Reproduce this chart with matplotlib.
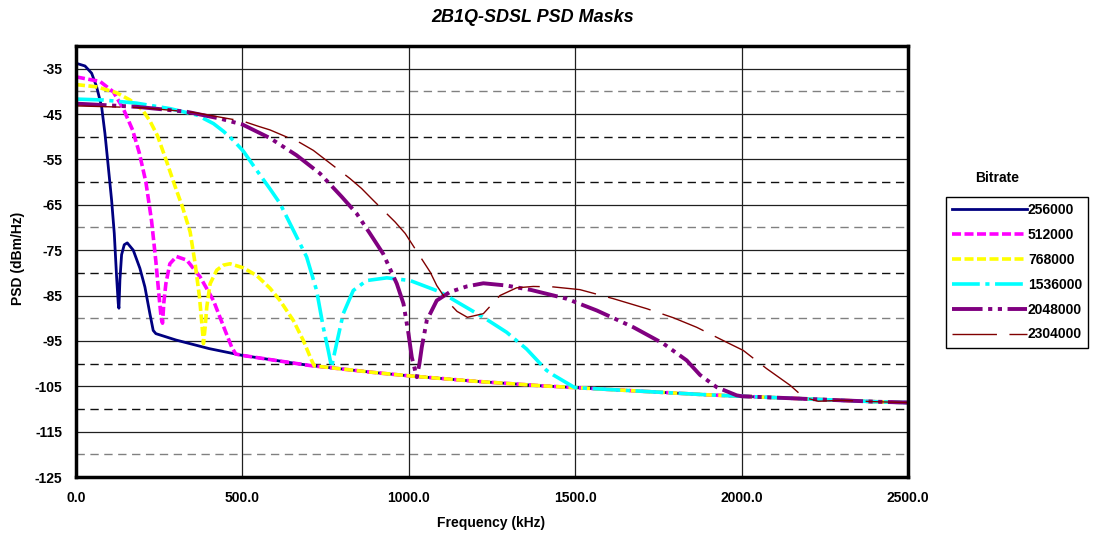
import matplotlib
matplotlib.use('Agg')
import matplotlib.pyplot as plt

plt.rcParams['font.family'] = ['Liberation Sans', 'DejaVu Sans']
plt.rcParams['font.weight'] = 'bold'
plt.rcParams['lines.scale_dashes'] = False
plt.rcParams['axes.unicode_minus'] = False

# common floor of all masks (kHz, dBm/Hz)
floor_khz = [240, 300, 400, 500, 600, 700, 800, 900, 1000, 1100, 1200, 1300,
             1400, 1500, 1600, 1700, 1800, 1900, 2000, 2100, 2200, 2300, 2400, 2500]
floor_dbm = [-93.4, -94.8, -96.7, -98.2, -99.3, -100.4, -101.2, -102.0, -102.7, -103.3,
             -103.9, -104.4, -104.9, -105.3, -105.7, -106.1, -106.5, -106.9, -107.2,
             -107.5, -107.8, -108.1, -108.4, -108.6]

# lobes of each mask, before they meet the floor
f_256 = [0, 27, 47, 62, 77, 87, 97, 107, 115, 122, 127, 129, 132, 137, 145, 154,
         172, 192, 207, 222, 232, 240]
p_256 = [-33.8, -34.4, -36.0, -39.0, -43.4, -49.3, -56.6, -64.0, -71.3, -80.9, -86.8,
         -87.8, -81.5, -76.0, -73.8, -73.4, -75.0, -79.0, -83.1, -89.0, -92.7, -93.4]

f_512 = [0, 42, 72, 112, 142, 170, 190, 210, 227, 240, 250, 256, 260, 264, 270, 282,
         302, 333, 373, 413, 448, 468, 480]
p_512 = [-36.8, -37.4, -37.8, -40.1, -43.8, -48.5, -53.5, -60.0, -68.5, -77.5, -85.5,
         -90.0, -91.1, -86.5, -82.4, -78.0, -76.4, -77.2, -80.9, -86.1, -92.7, -96.4, -97.9]

f_768 = [0, 62, 122, 162, 200, 222, 245, 272, 297, 320, 343, 358, 371, 380, 383, 388,
         393, 403, 423, 443, 463, 503, 543, 583, 613, 653, 683, 708, 716]
p_768 = [-38.5, -39.0, -40.3, -41.9, -44.1, -46.5, -49.8, -55.4, -60.8, -65.5, -71.0,
         -78.0, -85.3, -92.7, -95.6, -92.0, -87.5, -82.4, -79.4, -78.3, -78.0, -78.9,
         -80.6, -83.4, -86.1, -90.5, -94.9, -99.3, -100.5]

f_1536 = [0, 82, 182, 282, 363, 413, 443, 473, 503, 543, 583, 613, 653, 693, 723, 743,
          758, 768, 773, 783, 803, 833, 873, 934, 1004, 1094, 1154, 1224, 1294, 1354,
          1414, 1434, 1494]
p_1536 = [-41.7, -41.9, -42.6, -43.8, -45.2, -47.1, -48.8, -50.8, -53.2, -57.4, -61.5,
          -64.7, -70.6, -76.5, -83.9, -92.0, -97.1, -100.8, -99.0, -95.6, -89.0, -83.9,
          -81.7, -81.1, -81.7, -84.2, -86.8, -89.8, -93.1, -96.8, -101.5, -102.5, -105.1]

f_2048 = [0, 182, 333, 433, 500, 583, 663, 733, 798, 843, 883, 923, 964, 984, 999,
          1009, 1024, 1032, 1039, 1054, 1084, 1124, 1174, 1224, 1294, 1369, 1474, 1565,
          1675, 1765, 1835, 1875, 1925, 1985]
p_2048 = [-42.7, -43.4, -44.5, -46.0, -47.3, -50.3, -54.1, -58.1, -63.2, -66.9, -71.3,
          -75.8, -82.4, -86.8, -93.4, -98.6, -103.0, -100.0, -96.4, -90.5, -86.1, -84.2,
          -83.0, -82.3, -82.8, -83.8, -85.7, -88.3, -92.0, -95.6, -99.3, -102.5, -105.2,
          -107.0]

f_2304 = [0, 200, 350, 503, 548, 583, 673, 713, 823, 858, 893, 959, 989, 1064, 1084,
          1114, 1145, 1176, 1224, 1274, 1324, 1374, 1434, 1514, 1615, 1715, 1795, 1865,
          1955, 2005, 2075, 2146, 2186, 2230]
p_2304 = [-43.2, -43.6, -44.6, -46.6, -47.7, -48.5, -51.3, -53.0, -59.2, -61.4, -64.0,
          -68.8, -71.3, -79.8, -82.8, -86.1, -88.5, -89.8, -89.0, -85.0, -83.3, -83.0,
          -83.1, -83.7, -85.7, -87.9, -89.9, -92.0, -95.3, -97.1, -101.1, -104.8, -107.4,
          -108.3]

bitrates = ['256000', '512000', '768000', '1536000', '2048000', '2304000']
lobes = [(f_256, p_256), (f_512, p_512), (f_768, p_768),
         (f_1536, p_1536), (f_2048, p_2048), (f_2304, p_2304)]

colors = ['#000080', '#FF00FF', '#FFFF00', '#00FFFF', '#800080', '#800000']
widths = [2.0, 2.6, 2.6, 2.6, 2.8, 1.0]
dashes = [None, (6.5, 2.5), (6.5, 2.5), (20, 4, 3, 4), (22, 4, 3, 4, 3, 4), (32, 9)]

fig = plt.figure(figsize=(10.94, 5.40), dpi=100)
ax = fig.add_axes([76 / 1094, 63 / 540, 832 / 1094, 431 / 540])

# grid lines
for v in range(-115, -34, 10):
    ax.axhline(v, color='#202020', lw=0.9, zorder=1)
grey_minor = [-40, -70, -90, -120]
for v in range(-120, -39, 10):
    c = '#808080' if v in grey_minor else '#101010'
    ax.axhline(v, color=c, lw=1.0, ls=(0, (6, 4)), zorder=1)
for v in [500, 1000, 1500, 2000]:
    ax.axvline(v, color='#202020', lw=0.9, zorder=1)

handles = []
for name, (f, p), c, w, d in zip(bitrates, lobes, colors, widths, dashes):
    fx = list(f) + [x for x in floor_khz if x > f[-1]]
    py = list(p) + [y for x, y in zip(floor_khz, floor_dbm) if x > f[-1]]
    line, = ax.plot(fx, py, color=c, lw=w, label=name, zorder=3)
    if d is not None:
        line.set_dashes(d)
    handles.append(line)

ax.set_xlim(0, 2500)
ax.set_ylim(-125, -30)
xt = [0, 500, 1000, 1500, 2000, 2500]
ax.set_xticks(xt)
ax.set_xticklabels([f'{v:.1f}' for v in xt])
ax.set_yticks(list(range(-125, -34, 10)))
ax.tick_params(length=0, labelsize=10, pad=10)
for s in ax.spines.values():
    s.set_linewidth(2.5)
    s.set_color('black')
    s.set_zorder(5)

fig.text(533 / 1094, 1 - 17 / 540, '2B1Q-SDSL PSD Masks', ha='center', va='center',
         fontsize=13, style='italic', weight='bold')
fig.text(491 / 1094, 1 - 523 / 540, 'Frequency (kHz)', ha='center', va='center', fontsize=10)
fig.text(18 / 1094, 1 - 258 / 540, 'PSD (dBm/Hz)', ha='center', va='center',
         rotation=90, fontsize=10)

fig.text(997 / 1094, 1 - 178 / 540, 'Bitrate', ha='center', va='center', fontsize=10)
leg = fig.legend(handles, bitrates, loc='upper left', bbox_to_anchor=(946 / 1094, 1 - 197 / 540),
                 borderaxespad=0, fontsize=10, handlelength=5.4, handletextpad=0.05,
                 labelspacing=0.78, borderpad=0.45, fancybox=False, framealpha=1,
                 edgecolor='black')
leg.get_frame().set_linewidth(1.0)

fig.savefig('out.png', dpi=100)
